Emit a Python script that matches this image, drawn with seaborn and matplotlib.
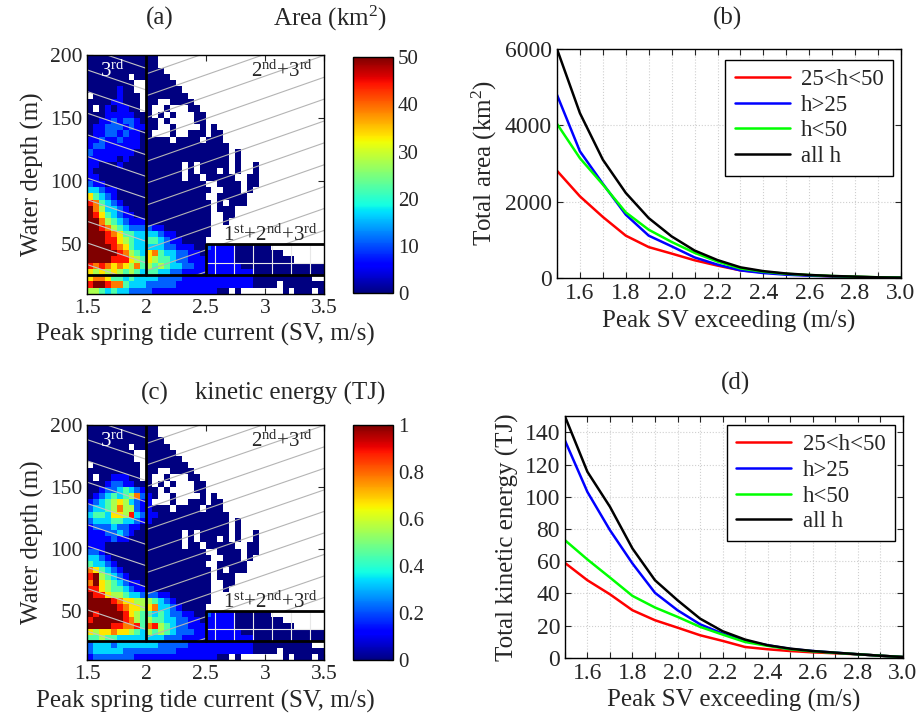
import numpy as np
import pandas as pd
import matplotlib
matplotlib.use("Agg")
import matplotlib.pyplot as plt
from matplotlib.patches import Polygon
from matplotlib.ticker import FuncFormatter
import seaborn as sns

# map grid: peak SV 1.5 -> 3.5 in 0.05 steps (40 columns),
# depth 200 -> 10 m in 5 m steps (38 rows, top row first)
# '.' = no data, digit d -> d/9 of the colour range
area_rows = [
    "000000000000",
    "000000000000",
    "0000000000000",
    "0000000.000000",
    "00000000..00000",
    "00000100..000000",
    ".00001000.0000000",
    "000011000.00..0000",
    "0.0101100.0..0...00",
    "00011111000.0.0...00",
    "001121221000.0....00",
    "011222121100..0....0.0",
    "01122121100...0..000.00",
    "11211211100000.0000.000",
    "122111111000000000000000",
    "211111110000000000000000.0",
    "111110100000000000000000.0",
    "1100010000000000.0.00000.0..0",
    "1000000000000000.0.000.0.0..0",
    "1100000000000000.00.00000..00",
    "21100000000000000000..0000.00",
    "332110000000000000000..000.0",
    "64321000000000000000..00000",
    "874321000000000000000.0.000",
    "975332100000000000000.000",
    "986432110000000000000..00",
    "997543211100000000000..0",
    "998754322221100000000",
    "999876443333211000000",
    "99988654334432110000",
    "9999876433333221110021111000000",
    "999998754367433221101111100000000",
    "99998886546544322111111110000000000",
    "8787676574545433221111111100000000000000",
    "6565654543443322111111111111000000000000",
    "67764434333322221111111111110000000000",
    "89987743332222211111111111110000.0000000",
    "554343322221111111111100.0.......0.000.0",
]

energy_rows = [
    "000000000000",
    "000000000000",
    "0000000000000",
    "0000000.000000",
    "00000000..00000",
    "00000000..000000",
    ".00000000.0000000",
    "000000000.00..0000",
    "0.0011100.0..0...00",
    "00012211000.0.0...00",
    "001223432100.0....00",
    "012343457210..0....0.0",
    "12345653211...0..000.00",
    "23345755211000.0000.000",
    "344366583211000000000000",
    "233344332110000000000000.0",
    "122232211000000000000000.0",
    "1112232100000000.0.00000.0..0",
    "1111211000000000.0.000.0.0..0",
    "1110000000000000.00.00000..00",
    "22100000000000000000..0000.00",
    "332100000000000000000..000.0",
    "43321000000000000000..00000",
    "764321000000000000000.0.000",
    "895432100000000000000.000",
    "796543211000000000000..00",
    "886544321100000000000..0",
    "988655433222110000000",
    "999987665554321000000",
    "99999876656733210000",
    "9899998654434322110021111000000",
    "899999875454433221101111100000000",
    "99998877847854322111111110000000000",
    "6566766543545432221111111100000000000000",
    "4454433333333222111111111111000000000000",
    "23332333333322222111111111110000000000",
    "23333322222222211111111111110000.0000000",
    "122222221111111111111100.0.......0.000.0",
]

sv_exceed = [1.5, 1.6, 1.7, 1.8, 1.9, 2.0, 2.1, 2.2, 2.3, 2.4, 2.5, 2.6, 2.7, 2.8, 2.9, 3.0]
series_labels = ["25<h<50", "h>25", "h<50", "all h"]
series_colors = ["#ff0000", "#0000ff", "#00ff00", "#000000"]

area_mid = [2810, 2140, 1600, 1110, 810, 640, 465, 325, 200, 148, 105, 70, 45, 27, 17, 9]
area_deep = [4800, 3320, 2470, 1660, 1110, 830, 540, 350, 200, 130, 87, 61, 44, 26, 17, 9]
area_shallow = [4040, 3140, 2450, 1720, 1265, 945, 660, 430, 250, 165, 110, 78, 52, 35, 20, 10]
area_all = [6000, 4320, 3100, 2230, 1570, 1090, 720, 470, 280, 180, 118, 80, 54, 36, 18, 9]

energy_mid = [59, 48.2, 39.5, 29.6, 23.4, 18.8, 14.1, 10.6, 6.8, 5.4, 4.3, 3.5, 2.9, 2.3, 1.4, 0.6]
energy_deep = [135, 103, 79.3, 58.6, 40.4, 29.6, 20.9, 15.1, 10.6, 7.9, 5.6, 4.3, 3.3, 2.3, 1.4, 0.6]
energy_shallow = [73.1, 61.1, 49.9, 38.5, 31.3, 25.5, 19.3, 14.5, 9.9, 7.5, 5.4, 4.1, 3.2, 2.3, 1.4, 0.6]
energy_all = [150, 115.5, 93.8, 67.9, 48.2, 35.8, 24.4, 16.6, 11.4, 7.9, 5.8, 4.3, 3.3, 2.3, 1.4, 0.6]

sns.set_style("ticks")
plt.rcParams["font.family"] = ["Liberation Serif", "DejaVu Serif"]
plt.rcParams["mathtext.fontset"] = "custom"
plt.rcParams["mathtext.rm"] = "Liberation Serif"
plt.rcParams["mathtext.it"] = "Liberation Serif:italic"
plt.rcParams["mathtext.bf"] = "Liberation Serif:bold"

MAP_TICK = 15.5
LINE_TICK = 17
CB_TICK = 15
LAB = 18


def to_grid(rows, vmax):
    grid = np.full((len(rows), 40), np.nan)
    for r, row in enumerate(rows):
        for c, ch in enumerate(row.ljust(40, ".")):
            if ch != ".":
                grid[r, c] = int(ch) / 9 * vmax
    return pd.DataFrame(grid)


def col(x):
    return (np.asarray(x, dtype=float) - 1.5) / 0.05


def row(d):
    return (200 - np.asarray(d, dtype=float)) / 5


def clip_poly(ax, pts):
    xy = [(col(x), row(y)) for x, y in pts]
    return Polygon(xy, closed=True, transform=ax.transData, fc="none", ec="none")


def draw_map(ax, cax, rows, vmax, cticks):
    data = to_grid(rows, vmax)
    sns.heatmap(data, ax=ax, cbar_ax=cax, cmap="jet", vmin=0, vmax=vmax,
                xticklabels=False, yticklabels=False, cbar_kws={"ticks": cticks})
    for s in ax.spines.values():
        s.set_visible(True)
        s.set_color("black")
        s.set_linewidth(1)
    ax.set_xlim(0, 40)
    ax.set_ylim(38, 0)

    # hatching of the three zones
    left = clip_poly(ax, [(1.5, 25), (2, 25), (2, 200), (1.5, 200)])
    xs = np.array([1.5, 2.0])
    for b in np.arange(205.4, 20, -17.2):
        ln, = ax.plot(col(xs), row(b - 32 * (xs - 1.5)), color="#c4c4c4", lw=0.8)
        ln.set_clip_path(left)
    right = clip_poly(ax, [(2, 25), (2.5, 25), (2.5, 50), (3.5, 50), (3.5, 200), (2, 200)])
    xs = np.array([2.0, 3.5])
    for b in np.arange(202.4, -10, -17.4):
        ln, = ax.plot(col(xs), row(b + 33 * (xs - 2)), color="#b4b4b4", lw=0.8)
        ln.set_clip_path(right)
    for xv in [2.58, 2.74, 2.9, 3.06, 3.22, 3.38]:
        ax.plot(col([xv, xv]), row([25, 50]), color="#e8e8e8", lw=0.8)
    ax.plot(col([2.5, 3.5]), row([35, 35]), color="#e8e8e8", lw=0.8)

    ax.plot(col([2, 2]), row([25, 200]), color="black", lw=2)
    ax.plot(col([1.5, 3.5]), row([25, 25]), color="black", lw=2)
    ax.plot(col([2.5, 2.5, 3.5]), row([25, 50, 50]), color="black", lw=2)

    ax.text(col(1.61), row(182.5), "3$^{\\mathrm{rd}}$", color="white", fontsize=15)
    ax.text(col(3.41), row(182.5), "2$^{\\mathrm{nd}}$+3$^{\\mathrm{rd}}$", ha="right", fontsize=15)
    ax.text(col(3.45), row(52.5), "1$^{\\mathrm{st}}$+2$^{\\mathrm{nd}}$+3$^{\\mathrm{rd}}$", ha="right", fontsize=15)

    ax.set_xticks(col([1.5, 2, 2.5, 3, 3.5]), ["1.5", "2", "2.5", "3", "3.5"])
    ax.set_yticks(row([200, 150, 100, 50]), ["200", "150", "100", "50"])
    ax.tick_params(direction="in", top=True, right=True, labelsize=MAP_TICK, length=4,
                   labelrotation=0)
    ax.set_xlabel("Peak spring tide current (SV, m/s)", fontsize=LAB)
    ax.set_ylabel("Water depth (m)", fontsize=LAB)

    cb = ax.collections[0].colorbar
    cb.outline.set_visible(True)
    cb.outline.set_linewidth(1)
    cb.outline.set_edgecolor("black")
    cb.ax.yaxis.set_major_formatter(FuncFormatter(lambda v, p: f"{v:g}"))
    cax.tick_params(direction="in", labelsize=CB_TICK, length=4, left=True, right=True)


def draw_lines(ax, series, ylim, yticks, ylabel, anchor):
    for vals, color, lab in zip(series, series_colors, series_labels):
        sns.lineplot(x=sv_exceed, y=vals, color=color, lw=1.8, label=lab, ax=ax)
    ax.set_xlim(1.5, 3.0)
    ax.set_ylim(*ylim)
    xt = np.round(np.arange(1.5, 3.01, 0.1), 1)
    ax.set_xticks(xt, [f"{v:.1f}" if round(v * 10) % 2 == 0 else "" for v in xt])
    ax.set_yticks(yticks)
    ax.grid(True, color="#cfcfcf", ls=":", lw=0.8)
    ax.tick_params(direction="in", top=True, right=True, labelsize=LINE_TICK, length=4)
    for s in ax.spines.values():
        s.set_linewidth(1)
        s.set_color("black")
    ax.set_xlabel("Peak SV exceeding (m/s)", fontsize=LAB)
    ax.set_ylabel(ylabel, fontsize=LAB)
    leg = ax.legend(loc="upper right", fontsize=16.5, fancybox=False, framealpha=1,
                    edgecolor="black", handlelength=2.4, handletextpad=0.5,
                    labelspacing=0.2, borderpad=0.4, borderaxespad=0,
                    bbox_to_anchor=anchor)
    leg.get_frame().set_linewidth(1)


fig = plt.figure(figsize=(9.17, 7.24), dpi=100)
ax_a = fig.add_axes([0.0949, 0.594, 0.2585, 0.330])
cax_a = fig.add_axes([0.385, 0.595, 0.0436, 0.326])
ax_b = fig.add_axes([0.6074, 0.616, 0.3751, 0.3163])
ax_c = fig.add_axes([0.0949, 0.0884, 0.2585, 0.3246])
cax_c = fig.add_axes([0.385, 0.088, 0.0436, 0.325])
ax_d = fig.add_axes([0.616, 0.0912, 0.3686, 0.334])

draw_map(ax_a, cax_a, area_rows, 50, [0, 10, 20, 30, 40, 50])
draw_map(ax_c, cax_c, energy_rows, 1, [0, 0.2, 0.4, 0.6, 0.8, 1])
draw_lines(ax_b, [area_mid, area_deep, area_shallow, area_all], (0, 6000),
           [0, 2000, 4000, 6000], "Total area (km$^{2}$)", (0.977, 0.952))
draw_lines(ax_d, [energy_mid, energy_deep, energy_shallow, energy_all], (0, 150),
           [0, 20, 40, 60, 80, 100, 120, 140], "Total kinetic energy (TJ)", (0.976, 0.963))

fig.text(160 / 917, 1 - 18 / 724, "(a)", fontsize=LAB, ha="center", va="center")
fig.text(330 / 917, 1 - 18 / 724, "Area (km$^{2}$)", fontsize=LAB, ha="center", va="center")
fig.text(727 / 917, 1 - 18 / 724, "(b)", fontsize=LAB, ha="center", va="center")
fig.text(155 / 917, 1 - 393 / 724, "(c)", fontsize=LAB, ha="center", va="center")
fig.text(290 / 917, 1 - 393 / 724, "kinetic energy (TJ)", fontsize=LAB, ha="center", va="center")
fig.text(735 / 917, 1 - 383 / 724, "(d)", fontsize=LAB, ha="center", va="center")

fig.savefig("out.png", dpi=100)
